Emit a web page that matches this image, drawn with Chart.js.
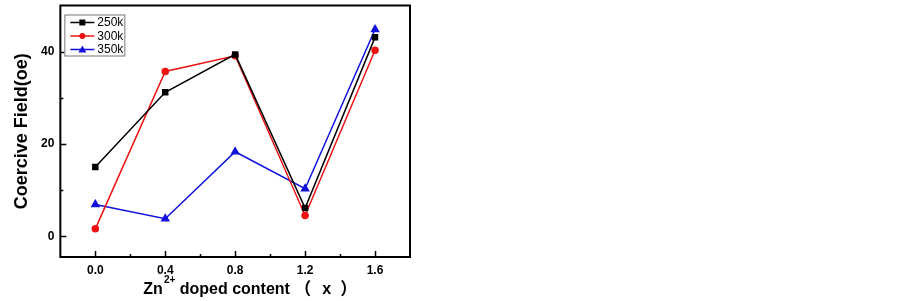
<!DOCTYPE html>
<html>
<head>
<meta charset="utf-8">
<script src="https://cdn.jsdelivr.net/npm/chart.js@4.4.1/dist/chart.umd.min.js"></script>
<style>
html,body{margin:0;padding:0;background:#fff;}
#wrap{width:903px;height:301px;position:relative;}
</style>
</head>
<body>
<div id="wrap"><canvas id="c" width="903" height="301"></canvas></div>
<script>
const xValues = [0.0, 0.4, 0.8, 1.2, 1.6];
const series250 = [15.0, 31.2, 39.4, 6.1, 43.1];
const series300 = [1.6, 35.7, 39.1, 4.5, 40.3];
const series350 = [6.9, 3.8, 18.3, 10.3, 44.8];
const seriesLabels = ['250k', '300k', '350k'];
const xTickValues = [0.0, 0.4, 0.8, 1.2, 1.6];
const xMinorTicks = [0.2, 0.6, 1.0, 1.4];
const yTickValues = [0, 20, 40];
const yMinorTicks = [10, 30];
const xTitleParts = ['Zn', '2+', ' doped content', '（', 'x', '）'];

const FONT = '"Liberation Sans", Arial, "DejaVu Sans", "Noto Sans CJK SC", sans-serif';
const CJK = '"Noto Sans CJK SC", "Liberation Sans", sans-serif';

function pts(vals){ return xValues.map((x,i)=>({x:x, y:vals[i]})); }

const framePlugin = {
  id: 'frame',
  afterDatasetsDraw(chart){
    const ctx = chart.ctx, a = chart.chartArea;
    const xs = chart.scales.x, ys = chart.scales.y;
    ctx.save();
    ctx.strokeStyle = '#000';
    ctx.lineWidth = 2;
    ctx.strokeRect(a.left, a.top, a.right - a.left, a.bottom - a.top);
    ctx.lineWidth = 1.5;
    ctx.beginPath();
    xTickValues.forEach(v=>{ const p = Math.round(xs.getPixelForValue(v))+0.5; ctx.moveTo(p, a.bottom); ctx.lineTo(p, a.bottom-6); });
    xMinorTicks.forEach(v=>{ const p = Math.round(xs.getPixelForValue(v))+0.5; ctx.moveTo(p, a.bottom); ctx.lineTo(p, a.bottom-3); });
    yTickValues.forEach(v=>{ const p = Math.round(ys.getPixelForValue(v))+0.5; ctx.moveTo(a.left, p); ctx.lineTo(a.left+6, p); });
    yMinorTicks.forEach(v=>{ const p = Math.round(ys.getPixelForValue(v))+0.5; ctx.moveTo(a.left, p); ctx.lineTo(a.left+3, p); });
    ctx.stroke();

    // legend box
    const bx = a.left + 4, by = a.top + 9, bw = 60, bh = 41;
    ctx.fillStyle = '#fff';
    ctx.fillRect(bx, by, bw, bh);
    ctx.strokeStyle = '#777';
    ctx.lineWidth = 1;
    ctx.strokeRect(bx+0.5, by+0.5, bw, bh);
    ctx.font = '12px ' + FONT;
    ctx.textBaseline = 'middle';
    chart.data.datasets.forEach((ds, i)=>{
      const yy = by + 8 + i*13.5;
      ctx.strokeStyle = ds.borderColor;
      ctx.lineWidth = 1.5;
      ctx.beginPath(); ctx.moveTo(bx+6, yy); ctx.lineTo(bx+30, yy); ctx.stroke();
      ctx.fillStyle = ds.backgroundColor;
      const cx = bx+18;
      if (ds.pointStyle === 'rect'){ ctx.fillRect(cx-3, yy-3, 6, 6); }
      else if (ds.pointStyle === 'circle'){ ctx.beginPath(); ctx.arc(cx, yy, 3, 0, Math.PI*2); ctx.fill(); }
      else { ctx.beginPath(); ctx.moveTo(cx, yy-4); ctx.lineTo(cx+4, yy+3); ctx.lineTo(cx-4, yy+3); ctx.closePath(); ctx.fill(); }
      ctx.fillStyle = '#000';
      ctx.fillText(ds.label, bx+33, yy+0.5);
    });

    // x axis title with superscript
    ctx.fillStyle = '#000';
    ctx.textBaseline = 'alphabetic';
    ctx.textAlign = 'left';
    const base = a.bottom + 37;
    let x = a.left + 83;
    ctx.font = 'bold 16px ' + FONT;
    ctx.fillText(xTitleParts[0], x, base); x += ctx.measureText(xTitleParts[0]).width + 1;
    ctx.font = 'bold 10px ' + FONT;
    ctx.fillText(xTitleParts[1], x, base - 11); x += ctx.measureText(xTitleParts[1]).width;
    ctx.font = 'bold 16px ' + FONT;
    ctx.fillText(xTitleParts[2], x, base);
    ctx.font = 'bold 17px ' + CJK;
    ctx.fillText(xTitleParts[3], a.left + 234, base + 1);
    ctx.font = 'bold 16px ' + FONT;
    ctx.fillText(xTitleParts[4], a.left + 262, base);
    ctx.font = 'bold 17px ' + CJK;
    ctx.fillText(xTitleParts[5], a.left + 280, base + 1);
    ctx.restore();
  }
};

new Chart(document.getElementById('c'), {
  type: 'line',
  data: {
    datasets: [
      {label: seriesLabels[0], data: pts(series250), borderColor: '#000000', backgroundColor: '#000000', pointStyle: 'rect', pointRadius: 3.5, borderWidth: 1.5},
      {label: seriesLabels[1], data: pts(series300), borderColor: '#ee1111', backgroundColor: '#ee1111', pointStyle: 'circle', pointRadius: 3, borderWidth: 1.5},
      {label: seriesLabels[2], data: pts(series350), borderColor: '#1111dd', backgroundColor: '#1111dd', pointStyle: 'triangle', pointRadius: 4, borderWidth: 1.5}
    ]
  },
  options: {
    responsive: false,
    animation: false,
    layout: {padding: {left: 13, right: 493, top: -1, bottom: 16}},
    plugins: {legend: {display: false}, tooltip: {enabled: false}},
    elements: {line: {tension: 0}},
    scales: {
      x: {
        type: 'linear', min: -0.2, max: 1.8,
        afterBuildTicks: s => { s.ticks = xTickValues.map(v=>({value:v})); },
        afterFit: s => { s.paddingLeft = 0; s.paddingRight = 0; },
        grid: {display: false, drawTicks: false},
        border: {display: false},
        ticks: {color: '#000', font: {family: FONT, size: 12, weight: 'bold', lineHeight: 1}, padding: 8, callback: v => Number(v).toFixed(1), maxRotation: 0},
        title: {display: false}
      },
      y: {
        type: 'linear', min: -4.5, max: 50,
        afterBuildTicks: s => { s.ticks = yTickValues.map(v=>({value:v})); },
        afterFit: s => { s.paddingTop = 0; s.paddingBottom = 0; },
        grid: {display: false, drawTicks: false},
        border: {display: false},
        ticks: {color: '#000', font: {family: FONT, size: 12, weight: 'bold'}, padding: 6},
        title: {display: true, text: 'Coercive Field(oe)', color: '#000', font: {family: FONT, size: 18, weight: 'bold', lineHeight: 1}, padding: {top: 0, bottom: 4}}
      }
    }
  },
  plugins: [framePlugin]
});
</script>
</body>
</html>
